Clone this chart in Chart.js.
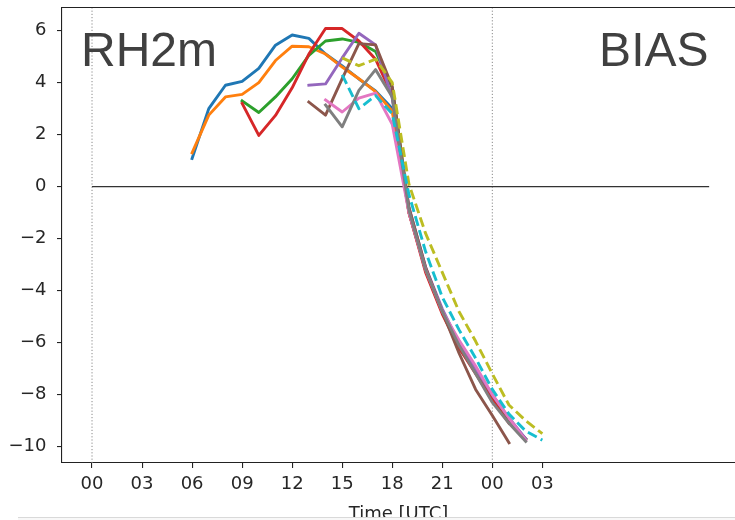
<!DOCTYPE html>
<html><head><meta charset="utf-8">
<script src="https://cdn.jsdelivr.net/npm/chart.js@4"></script>
<style>html,body{margin:0;padding:0;background:#fff}canvas{display:block}</style>
</head><body>
<canvas id="c" width="735" height="520"></canvas>
<script>
// ---- data (hour of day, bias values) ----
const seriesColors = ['#1f77b4','#ff7f0e','#2ca02c','#d62728','#9467bd','#8c564b','#e377c2','#7f7f7f','#bcbd22','#17becf'];
const seriesDashed = [false,false,false,false,false,false,false,false,true,true];
const seriesStart  = [6, 6, 9, 9, 13, 13, 14, 14, 15, 15];

const blueVals   = [1.08, 3.0, 3.9, 4.05, 4.55, 5.44, 5.83, 5.7, 5.1, 4.64, 4.14, 3.68, 3.0, -1.0, -3.2, -4.8, -6.2, -7.1, -8.1, -9.0, -9.7];
const orangeVals = [1.3, 2.75, 3.45, 3.55, 4.0, 4.85, 5.4, 5.38, 5.1, 4.6, 4.15, 3.65, 2.9, -1.0, -3.2, -4.8, -6.1, -7.1, -8.1, -9.0, -9.7];
const greenVals  = [3.3, 2.85, 3.45, 4.15, 5.05, 5.6, 5.68, 5.55, 5.2, 3.8, -0.9, -3.2, -4.8, -6.1, -7.1, -8.1, -9.0, -9.7];
const redVals    = [3.2, 1.97, 2.74, 3.8, 5.1, 6.08, 6.08, 5.6, 4.9, 3.5, -1.0, -3.3, -4.9, -6.2, -7.2, -8.2, -9.1];
const purpleVals = [3.9, 3.95, 4.95, 5.9, 5.45, 3.4, -0.8, -3.1, -4.7, -6.0, -7.0, -8.0, -8.9, -9.7];
const brownVals  = [3.25, 2.75, 4.15, 5.5, 5.45, 3.85, -0.8, -3.1, -4.8, -6.4, -7.8, -8.8, -9.85];
const pinkVals   = [3.33, 2.87, 3.4, 3.6, 2.4, -1.0, -3.2, -4.8, -5.9, -6.9, -8.0, -8.9, -9.75];
const grayVals   = [3.14, 2.3, 3.7, 4.5, 3.45, -0.9, -3.2, -4.8, -6.1, -7.2, -8.3, -9.1, -9.8];
const oliveVals  = [4.95, 4.65, 4.9, 4.0, 0.1, -1.8, -3.3, -4.8, -5.95, -7.2, -8.4, -9.0, -9.5];
const cyanVals   = [4.3, 3.0, 3.5, 2.8, -0.3, -2.5, -4.25, -5.5, -6.6, -7.8, -8.75, -9.4, -9.75];

const allSeries = [blueVals, orangeVals, greenVals, redVals, purpleVals, brownVals, pinkVals, grayVals, oliveVals, cyanVals];

const xTickValues = [0, 3, 6, 9, 12, 15, 18, 21, 24, 27];
const xTickLabels = ['00','03','06','09','12','15','18','21','00','03'];
const yTickValues = [-10, -8, -6, -4, -2, 0, 2, 4, 6];
const zeroLineHours = [0, 37];
const midnightHours = [0, 24];

const panelLeftLabel = 'RH2m';
const panelRightLabel = 'BIAS';
const xTitle = 'Time [UTC]';

const X_MIN = -1.8, X_MAX = 38.55, Y_MIN = -10.63, Y_MAX = 6.87;

// ---- build datasets ----
const datasets = [];
allSeries.forEach((vals, i) => {
  datasets.push({
    data: vals.map((v, k) => ({x: seriesStart[i] + k, y: v})),
    borderColor: seriesColors[i],
    borderWidth: 2.9,
    borderDash: seriesDashed[i] ? [10, 4.5] : [],
    borderJoinStyle: 'round',
    borderCapStyle: seriesDashed[i] ? 'butt' : 'square',
    pointRadius: 0,
    tension: 0,
    fill: false,
    order: 20 - i
  });
});
datasets.push({
  data: zeroLineHours.map(h => ({x: h, y: 0})),
  borderColor: '#333', borderWidth: 1.1, pointRadius: 0, order: 40
});
midnightHours.forEach(h => {
  datasets.push({
    data: [{x: h, y: Y_MIN}, {x: h, y: Y_MAX}],
    borderColor: '#8a8a8a', borderWidth: 1, borderDash: [1.2, 2], pointRadius: 0, order: 41
  });
});

const overlay = {
  id: 'overlay',
  afterDraw(chart) {
    const {ctx, chartArea: a} = chart;
    ctx.save();
    ctx.fillStyle = '#404040';
    ctx.font = '48px "Liberation Sans", Arial, sans-serif';
    ctx.textBaseline = 'alphabetic';
    ctx.textAlign = 'left';
    ctx.fillText(panelLeftLabel, a.left + 19, a.top + 57.5);
    ctx.textAlign = 'right';
    ctx.fillText(panelRightLabel, a.right - 26.5, a.top + 57.5);
    ctx.font = '18px "DejaVu Sans"';
    ctx.fillStyle = '#262626';
    ctx.textAlign = 'center';
    ctx.fillText(xTitle, (a.left + a.right) / 2, 518.5);
    ctx.fillStyle = '#f8f8f8';
    ctx.fillRect(18, 517.5, chart.width - 18, 3);
    ctx.strokeStyle = '#d9d9d9';
    ctx.lineWidth = 1;
    ctx.beginPath(); ctx.moveTo(18, 517.5); ctx.lineTo(chart.width, 517.5); ctx.stroke();
    ctx.restore();
  }
};

const tickFont = {family: '"DejaVu Sans"', size: 18};
const noPad = ax => { ax.paddingTop = 0; ax.paddingBottom = 0; ax.paddingLeft = 0; ax.paddingRight = 0; };

new Chart(document.getElementById('c'), {
  type: 'line',
  data: {datasets},
  options: {
    responsive: false,
    animation: false,
    devicePixelRatio: 1,
    layout: {padding: {top: 8, left: 0, right: 0, bottom: 0}},
    plugins: {legend: {display: false}, tooltip: {enabled: false}},
    scales: {
      x: {
        type: 'linear', position: 'bottom', min: X_MIN, max: X_MAX,
        afterBuildTicks: ax => { ax.ticks = xTickValues.map(v => ({value: v})); },
        afterFit: ax => { ax.height = 57; noPad(ax); },
        ticks: {
          autoSkip: false, maxRotation: 0, padding: 6, color: '#262626', font: tickFont,
          callback: v => { const i = xTickValues.indexOf(v); return i >= 0 ? xTickLabels[i] : ''; }
        },
        grid: {drawOnChartArea: false, drawTicks: true, tickLength: 5, color: '#222', lineWidth: 1.1},
        border: {display: true, color: '#222', width: 1.1}
      },
      xTop: {
        type: 'linear', position: 'top', min: X_MIN, max: X_MAX,
        afterFit: ax => { ax.height = 0; noPad(ax); },
        ticks: {display: false},
        grid: {display: false, drawTicks: false},
        border: {display: true, color: '#222', width: 1.1}
      },
      y: {
        type: 'linear', min: Y_MIN, max: Y_MAX,
        afterBuildTicks: ax => { ax.ticks = yTickValues.map(v => ({value: v})); },
        afterFit: ax => { ax.width = 62; noPad(ax); },
        ticks: {
          padding: 10.5, color: '#262626', font: tickFont,
          callback: v => (v < 0 ? '\u2212' + Math.abs(v) : String(v))
        },
        grid: {drawOnChartArea: false, drawTicks: true, tickLength: 5, color: '#222', lineWidth: 1.1},
        border: {display: true, color: '#222', width: 1.1}
      }
    }
  },
  plugins: [overlay]
});
</script>
</body></html>
